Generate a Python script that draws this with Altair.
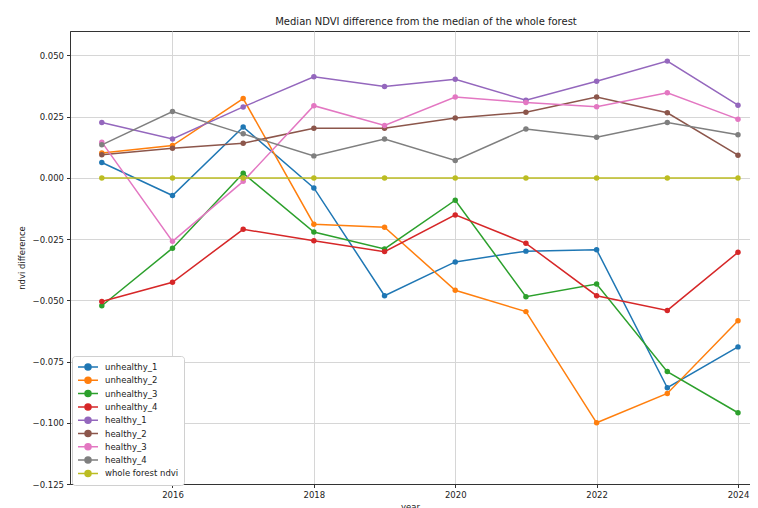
import altair as alt
import pandas as pd

years = [2015, 2016, 2017, 2018, 2019, 2020, 2021, 2022, 2023, 2024]
series_names = ["unhealthy_1", "unhealthy_2", "unhealthy_3", "unhealthy_4",
                "healthy_1", "healthy_2", "healthy_3", "healthy_4", "whole forest ndvi"]
colors = ["#1f77b4", "#ff7f0e", "#2ca02c", "#d62728", "#9467bd",
          "#8c564b", "#e377c2", "#7f7f7f", "#bcbd22"]

unhealthy_1 = [0.0063, -0.0072, 0.0208, -0.0041, -0.0481, -0.0343, -0.0299, -0.0293, -0.0857, -0.0690]
unhealthy_2 = [0.0102, 0.0132, 0.0324, -0.0189, -0.0201, -0.0459, -0.0546, -0.1000, -0.0880, -0.0583]
unhealthy_3 = [-0.0522, -0.0287, 0.0019, -0.0221, -0.0290, -0.0091, -0.0485, -0.0433, -0.0791, -0.0959]
unhealthy_4 = [-0.0505, -0.0426, -0.0210, -0.0257, -0.0301, -0.0151, -0.0267, -0.0481, -0.0541, -0.0304]
healthy_1 = [0.0226, 0.0159, 0.0290, 0.0413, 0.0373, 0.0403, 0.0317, 0.0395, 0.0477, 0.0297]
healthy_2 = [0.0095, 0.0121, 0.0142, 0.0203, 0.0203, 0.0245, 0.0268, 0.0330, 0.0266, 0.0093]
healthy_3 = [0.0146, -0.0259, -0.0014, 0.0295, 0.0214, 0.0330, 0.0308, 0.0291, 0.0348, 0.0240]
healthy_4 = [0.0135, 0.0271, 0.0180, 0.0090, 0.0159, 0.0071, 0.0200, 0.0166, 0.0226, 0.0176]
whole_forest = [0.0, 0.0, 0.0, 0.0, 0.0, 0.0, 0.0, 0.0, 0.0, 0.0]

all_series = [unhealthy_1, unhealthy_2, unhealthy_3, unhealthy_4,
              healthy_1, healthy_2, healthy_3, healthy_4, whole_forest]

y_ticks = [-0.125, -0.100, -0.075, -0.050, -0.025, 0.000, 0.025, 0.050]
x_ticks = [2016, 2018, 2020, 2022, 2024]

rows = []
for idx, (name, vals) in enumerate(zip(series_names, all_series)):
    for yr, v in zip(years, vals):
        rows.append({"year": yr, "value": v, "series": name, "ord": idx})
df = pd.DataFrame(rows)

FONT = "DejaVu Sans"
# line from -2 to 2 with a dot of radius 0.6 (scaled by sqrt(size)/2 = 5 px)
legend_symbol = ("M -2 0 L 2 0 M -0.6 0 A 0.6 0.6 0 1 1 0.6 0 "
                 "A 0.6 0.6 0 1 1 -0.6 0 Z")

color = alt.Color(
    "series:N",
    scale=alt.Scale(domain=series_names, range=colors),
    legend=alt.Legend(
        title=None, orient="none", legendX=2, legendY=325,
        symbolType=legend_symbol, symbolSize=100, symbolStrokeWidth=1.5,
        symbolOffset=5, labelOffset=11,
        labelFont=FONT, labelFontSize=8.5, labelColor="#222",
        rowPadding=1.3, padding=5, strokeColor="#d0d0d0", fillColor="white",
        cornerRadius=3,
    ),
)

x = alt.X("year:Q", scale=alt.Scale(domain=[2014.55, 2024.17], nice=False, zero=False),
          axis=alt.Axis(values=x_ticks, format="d", title="year", titlePadding=3))
y = alt.Y("value:Q", scale=alt.Scale(domain=[-0.125, 0.060], nice=False, zero=False),
          axis=alt.Axis(values=y_ticks, format=".3f", title="ndvi difference", titlePadding=6))

base = alt.Chart(df).encode(x=x, y=y, color=color, order=alt.Order("ord:Q"))
lines = base.mark_line(strokeWidth=1.5, clip=True)
points = base.mark_point(filled=True, size=30, opacity=1, clip=True)

chart = alt.layer(lines, points).properties(
    width=680, height=453,
    autosize=alt.AutoSizeParams(type="none"),
    padding={"left": 62, "top": 23, "right": 0, "bottom": 24},
    title=alt.TitleParams(
        "Median NDVI difference from the median of the whole forest",
        font=FONT, fontSize=10, fontWeight="normal", color="#222",
        offset=4, dx=16, anchor="middle",
    ),
).configure_view(
    stroke="#333", strokeWidth=1,
).configure_axis(
    labelFont=FONT, labelFontSize=8.5, labelColor="#222",
    titleFont=FONT, titleFontSize=8.5, titleColor="#222", titleFontWeight="normal",
    gridColor="#d6d6d6", gridWidth=1, grid=True,
    domainColor="#333", tickColor="#333", tickSize=3.5, labelPadding=3,
)

chart.save("out.html", embed_options={"renderer": "svg", "actions": False})
